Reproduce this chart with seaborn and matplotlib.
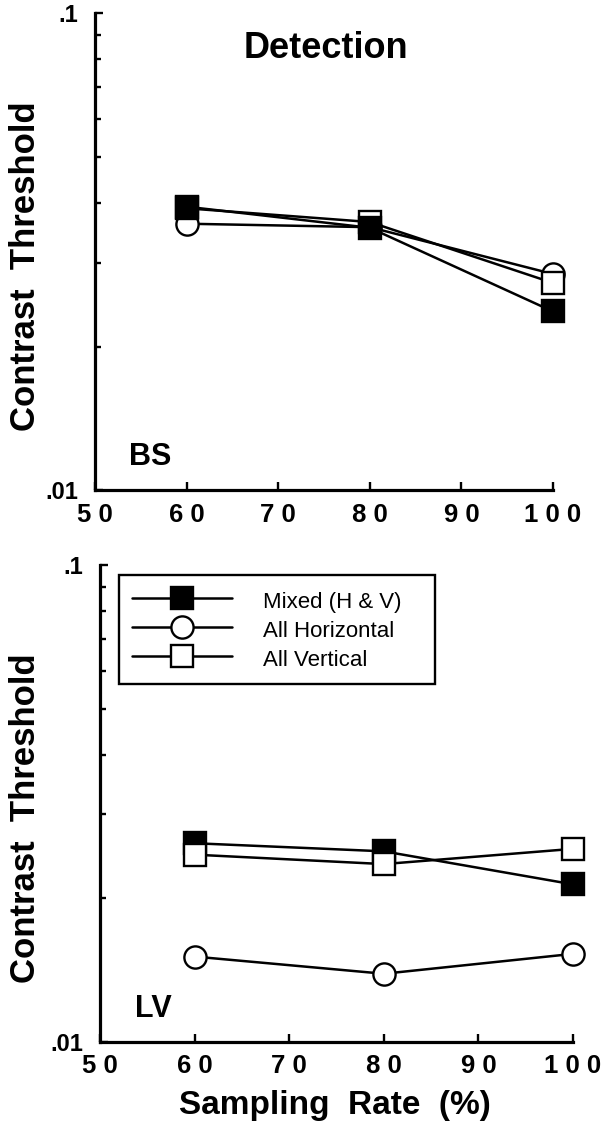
import pandas as pd
import seaborn as sns
import matplotlib.pyplot as plt
from matplotlib.lines import Line2D
from matplotlib.ticker import FixedLocator, LogLocator, NullFormatter

# Sampling rates (%) and contrast thresholds
sampling = [60, 80, 100]

bs_mixed = [0.0393, 0.0355, 0.0237]
bs_horizontal = [0.0362, 0.0356, 0.0284]
bs_vertical = [0.0390, 0.0365, 0.0272]

lv_mixed = [0.0261, 0.0251, 0.0214]
lv_horizontal = [0.0151, 0.0139, 0.0153]
lv_vertical = [0.0247, 0.0236, 0.0254]

series_names = ["Mixed (H & V)", "All Horizontal", "All Vertical"]
x_ticks = [50, 60, 70, 80, 90, 100]
x_tick_labels = ["5 0", "6 0", "7 0", "8 0", "9 0", "1 0 0"]
y_ticks = [0.01, 0.1]
y_tick_labels = [".01", ".1"]

sns.set_theme(style="ticks")
plt.rcParams['font.family'] = ['Liberation Sans', 'DejaVu Sans']
plt.rcParams['text.color'] = 'black'
plt.rcParams['axes.labelcolor'] = 'black'
plt.rcParams['xtick.color'] = 'black'
plt.rcParams['ytick.color'] = 'black'

# marker look for each condition
marker_style = {
    "Mixed (H & V)": dict(marker='s', markerfacecolor='black'),
    "All Horizontal": dict(marker='o', markerfacecolor='white'),
    "All Vertical": dict(marker='s', markerfacecolor='white'),
}


def draw_panel(ax, data, order):
    for name in order:
        df = pd.DataFrame({'rate': sampling, 'threshold': data[name]})
        sns.lineplot(data=df, x='rate', y='threshold', ax=ax, color='black',
                     linewidth=1.8, markersize=16, markeredgecolor='black',
                     markeredgewidth=1.7, clip_on=False, legend=False,
                     **marker_style[name])

    ax.set_yscale('log')
    ax.set_xlim(50, 100)
    ax.set_ylim(0.01, 0.1)
    ax.xaxis.set_major_locator(FixedLocator(x_ticks))
    ax.set_xticklabels(x_tick_labels)
    ax.yaxis.set_major_locator(FixedLocator(y_ticks))
    ax.set_yticklabels(y_tick_labels)
    ax.yaxis.set_minor_locator(LogLocator(base=10, subs=range(2, 10)))
    ax.yaxis.set_minor_formatter(NullFormatter())
    ax.xaxis.set_minor_locator(FixedLocator([]))

    sns.despine(ax=ax)
    for side in ['left', 'bottom']:
        ax.spines[side].set_linewidth(2.3)
        ax.spines[side].set_color('black')
    ax.tick_params(axis='both', which='major', direction='in', length=6,
                   width=1.7)
    ax.tick_params(axis='x', which='major', pad=9, labelsize=18.5)
    ax.tick_params(axis='y', which='major', pad=12, labelsize=17)
    ax.tick_params(axis='y', which='minor', direction='in', length=4.5,
                   width=1.7)
    for lab in ax.get_xticklabels() + ax.get_yticklabels():
        lab.set_fontweight('bold')
    ax.set_xlabel('')
    ax.set_ylabel('Contrast  Threshold', fontsize=25, fontweight='bold')


fig = plt.figure(figsize=(6.13, 11.40), dpi=100)
ax1 = fig.add_axes([0.155, 0.570, 0.747, 0.4184])
ax2 = fig.add_axes([0.1631, 0.086, 0.7716, 0.4184])

bs_data = dict(zip(series_names, [bs_mixed, bs_horizontal, bs_vertical]))
lv_data = dict(zip(series_names, [lv_mixed, lv_horizontal, lv_vertical]))

draw_panel(ax1, bs_data, ["All Horizontal", "All Vertical", "Mixed (H & V)"])
draw_panel(ax2, lv_data, ["Mixed (H & V)", "All Vertical", "All Horizontal"])

ax1.yaxis.set_label_coords(-0.116, 0.47)
ax2.yaxis.set_label_coords(-0.123, 0.47)

ax1.text(0.505, 0.925, 'Detection', transform=ax1.transAxes, ha='center',
         va='center', fontsize=26, fontweight='bold')
ax1.text(0.075, 0.07, 'BS', transform=ax1.transAxes, ha='left',
         va='center', fontsize=22, fontweight='bold')
ax2.text(0.073, 0.07, 'LV', transform=ax2.transAxes, ha='left',
         va='center', fontsize=22, fontweight='bold')

ax2.set_xlabel('Sampling  Rate  (%)', fontsize=24, fontweight='bold')
ax2.xaxis.set_label_coords(0.497, -0.10)

# legend in the lower panel
handles = [Line2D([], [], color='black', linewidth=1.8, markersize=16,
                  markeredgecolor='black', markeredgewidth=1.7,
                  **marker_style[name]) for name in series_names]
leg = ax2.legend(handles, series_names, loc='upper left',
                 bbox_to_anchor=(0.040, 0.5, 0.668, 0.479), mode='expand',
                 borderaxespad=0, fontsize=16, handlelength=4.5,
                 handleheight=1.3, handletextpad=1.4, labelspacing=0.2,
                 borderpad=0.6, frameon=True, fancybox=False)
leg.get_frame().set_edgecolor('black')
leg.get_frame().set_linewidth(1.7)
leg.get_frame().set_alpha(1)

fig.savefig('out.png', dpi=100, facecolor='white')
